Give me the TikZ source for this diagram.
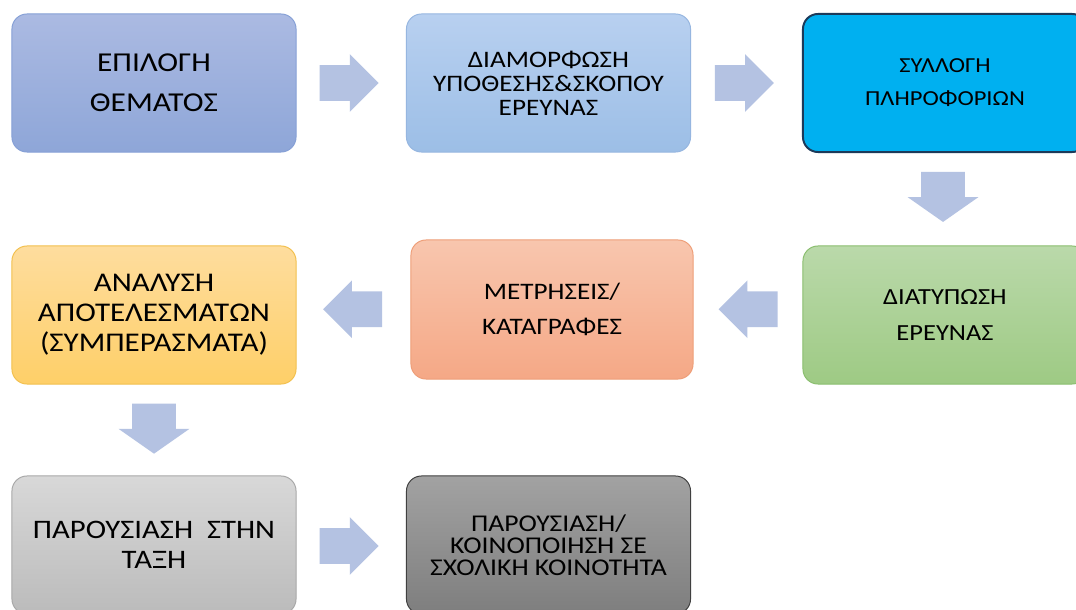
\documentclass[tikz,border=0pt]{standalone}
\usepackage{fontspec}
\usepackage{tikz}
\usetikzlibrary{calc,shapes.arrows}
\newfontfamily\boxfont[FakeStretch=1.15]{Carlito}

\definecolor{arrowblue}{HTML}{B4C2E2}
\definecolor{topicTop}{HTML}{ABBAE2}
\definecolor{topicBot}{HTML}{8EA6D8}
\definecolor{topicLine}{HTML}{86A0D6}
\definecolor{hypoTop}{HTML}{B8D0F0}
\definecolor{hypoBot}{HTML}{9CBEE6}
\definecolor{hypoLine}{HTML}{96B6E0}
\definecolor{infoFill}{HTML}{00B0F0}
\definecolor{infoLine}{HTML}{1C3A5A}
\definecolor{resTop}{HTML}{FEDD9E}
\definecolor{resBot}{HTML}{FECF68}
\definecolor{resLine}{HTML}{F2C04E}
\definecolor{measTop}{HTML}{F8C6AE}
\definecolor{measBot}{HTML}{F5A886}
\definecolor{measLine}{HTML}{EE9E78}
\definecolor{formTop}{HTML}{BAD9AA}
\definecolor{formBot}{HTML}{9ECA84}
\definecolor{formLine}{HTML}{8ABE6E}
\definecolor{classTop}{HTML}{D8D8D8}
\definecolor{classBot}{HTML}{BBBBBB}
\definecolor{classLine}{HTML}{A8A8A8}
\definecolor{schoolTop}{HTML}{A2A2A2}
\definecolor{schoolBot}{HTML}{7E7E7E}
\definecolor{schoolLine}{HTML}{404040}

\tikzset{
  stepbox/.style={rounded corners=0.375cm, minimum width=7.1cm, minimum height=3.45cm,
    align=center, inner sep=0pt, line width=0.7pt, text=black},
  txt/.style 2 args={font=\boxfont\fontsize{#1}{#2}\selectfont},
  rarrow/.style={single arrow, fill=arrowblue, inner xsep=0pt, inner ysep=0.4375cm,
    minimum height=1.475cm, single arrow head extend=0.275cm, single arrow tip angle=90},
  darrow/.style={single arrow, fill=arrowblue, inner xsep=0.54cm, inner ysep=0pt,
    minimum height=1.25cm, single arrow head extend=0.34cm, single arrow tip angle=110,
    shape border rotate=270}
}

\begin{document}
\begin{tikzpicture}[x=0.025cm,y=-0.025cm]
  \clip (0,0) rectangle (1076,610);
  \fill[white] (0,0) rectangle (1076,610);

  % first row
  \node[stepbox, draw=topicLine, top color=topicTop, bottom color=topicBot, txt={19.4}{28.5}]
    (b1) at (154,83) {ΕΠΙΛΟΓΗ\\ΘΕΜΑΤΟΣ};
  \node[stepbox, draw=hypoLine, top color=hypoTop, bottom color=hypoBot, txt={16.8}{17}]
    (b2) at (548.5,83) {ΔΙΑΜΟΡΦΩΣΗ\\ΥΠΟΘΕΣΗΣ\&ΣΚΟΠΟΥ\\ΕΡΕΥΝΑΣ};
  \node[stepbox, draw=infoLine, fill=infoFill, line width=1.4pt, txt={15.2}{23.5}]
    (b3) at (945,83) {\raisebox{-3pt}{ΣΥΛΛΟΓΗ}\\\raisebox{-3pt}{ΠΛΗΡΟΦΟΡΙΩΝ}};

  % second row
  \node[stepbox, draw=resLine, top color=resTop, bottom color=resBot, txt={19.2}{21.3}]
    (b4) at (154,315) {ΑΝΑΛΥΣΗ\\ΑΠΟΤΕΛΕΣΜΑΤΩΝ\\(ΣΥΜΠΕΡΑΣΜΑΤΑ)};
  \node[stepbox, draw=measLine, top color=measTop, bottom color=measBot, minimum width=7.05cm,
    minimum height=3.475cm, txt={16.8}{25}]
    (b5) at (552,309.5) {ΜΕΤΡΗΣΕΙΣ/\\ΚΑΤΑΓΡΑΦΕΣ};
  \node[stepbox, draw=formLine, top color=formTop, bottom color=formBot, txt={16.4}{25}]
    (b6) at (945,315) {ΔΙΑΤΥΠΩΣΗ\\ΕΡΕΥΝΑΣ};

  % third row
  \node[stepbox, draw=classLine, top color=classTop, bottom color=classBot, txt={19}{21.3}]
    (b7) at (154,545) {\raisebox{-3pt}{ΠΑΡΟΥΣΙΑΣΗ\ \ ΣΤΗΝ}\\\raisebox{-3pt}{ΤΑΞΗ}};
  \node[stepbox, draw=schoolLine, top color=schoolTop, bottom color=schoolBot, txt={17.1}{15.6}]
    (b8) at (548.5,545) {ΠΑΡΟΥΣΙΑΣΗ/\\ΚΟΙΝΟΠΟΙΗΣΗ ΣΕ\\ΣΧΟΛΙΚΗ ΚΟΙΝΟΤΗΤΑ};

  % block arrows
  \node[rarrow] (a1) at ($(b1.east)!0.5!(b2.west)+(-11,0)$) {};
  \node[rarrow] (a2) at ($(b2.east)!0.5!(b3.west)+(-11,0)$) {};
  \node[darrow] (a3) at ($(b3.south)!0.5!(b6.north)+(-2,-10)$) {};
  \node[rarrow, shape border rotate=180] (a4) at ($(b5.east)!0.5!(b6.west)+(9,-3)$) {};
  \node[rarrow, shape border rotate=180] (a5) at ($(b4.east)!0.5!(b5.west)+(8,-3)$) {};
  \node[darrow] (a6) at ($(b4.south)!0.5!(b7.north)+(0,-9)$) {};
  \node[rarrow] (a7) at ($(b7.east)!0.5!(b8.west)+(-11,1)$) {};
\end{tikzpicture}
\end{document}
